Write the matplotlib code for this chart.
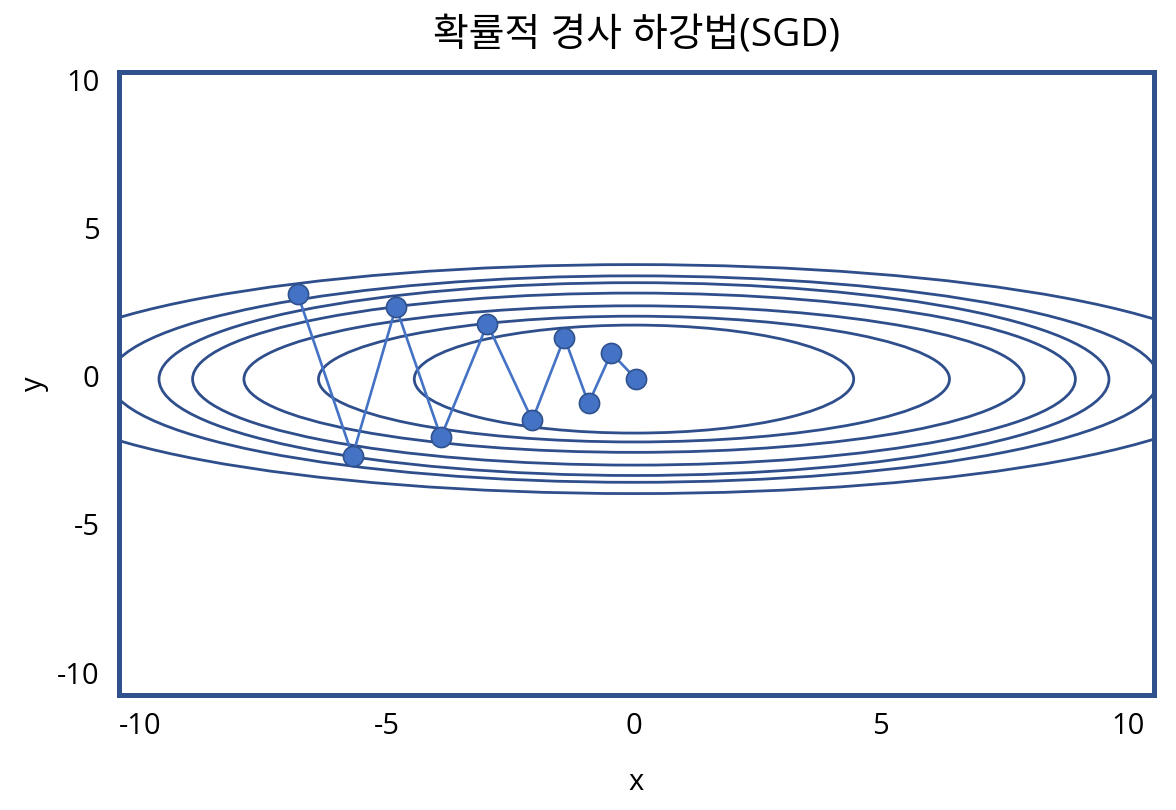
import matplotlib
matplotlib.use('Agg')
from matplotlib import pyplot as plt
from matplotlib.patches import Ellipse

plt.rcParams['font.family'] = ['Open Sans', 'Noto Sans CJK KR', 'DejaVu Sans']
plt.rcParams['axes.unicode_minus'] = False

# contour ellipses (semi-axes)
ell_a = [4.45, 6.39, 7.90, 8.94, 9.62, 10.63, 12.37]
ell_b = [1.82, 2.12, 2.47, 2.90, 3.25, 3.48, 3.86]
ell_center = (0.0, -0.1)

# SGD path
path_x = [-6.81, -5.70, -4.82, -3.91, -2.97, -2.06, -1.41, -0.92, -0.46, 0.05]
path_y = [2.76, -2.69, 2.33, -2.06, 1.76, -1.49, 1.30, -0.92, 0.78, -0.11]

ticks = [-10, -5, 0, 5, 10]

frame_c = '#2F528F'
contour_c = '#2F4E8C'

fig = plt.figure(figsize=(11.76, 8.10), dpi=100)
ax = fig.add_axes([0.1012, 0.142, 0.880, 0.769])

for a, b in zip(ell_a, ell_b):
    ax.add_patch(Ellipse(ell_center, 2 * a, 2 * b, fill=False,
                         edgecolor=contour_c, linewidth=2.0, zorder=2))

ax.plot(path_x, path_y, c='#4472C4', linewidth=1.9, zorder=3)
ax.plot(path_x, path_y, linestyle='none', marker='o', markersize=14.5,
        markerfacecolor='#4472C4', markeredgecolor='#2F528F',
        markeredgewidth=1.2, zorder=4)

ax.set_xlim(-10.43, 10.53)
ax.set_ylim(-10.75, 10.25)
ax.set_xticks(ticks)
ax.set_yticks(ticks)
ax.tick_params(axis='x', length=0, labelsize=21, pad=12)
ax.tick_params(axis='y', length=0, labelsize=21, pad=14)

for s in ax.spines.values():
    s.set_color(frame_c)
    s.set_linewidth(3.6)

ax.set_title("확률적 경사 하강법(SGD)", fontsize=28, pad=19)
ax.set_xlabel('x', fontsize=21, labelpad=20)
ax.set_ylabel('y', fontsize=21, labelpad=6)

plt.savefig('out.png', dpi=100)
